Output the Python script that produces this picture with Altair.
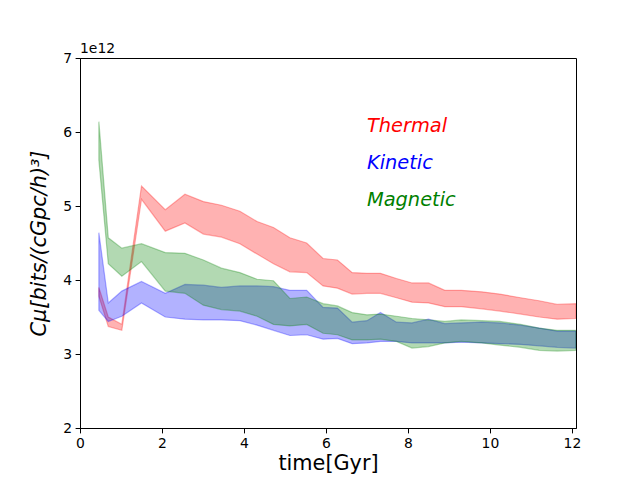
import altair as alt
import pandas as pd

# time grid [Gyr]
time = [0.46, 0.69, 1.02, 1.5, 2.08, 2.56, 3.01, 3.45, 3.9, 4.32, 4.72, 5.12, 5.53, 5.93,
        6.28, 6.64, 7.0, 7.33, 7.72, 8.1, 8.5, 8.9, 9.3, 9.8, 10.24, 10.75, 11.2, 11.64, 12.1]

# values in units of 1e12 bits/(cGpc/h)^3
thermal_hi = [3.90, 3.50, 3.40, 5.27, 4.95, 5.16, 5.06, 5.01, 4.93, 4.79, 4.71, 4.57, 4.50, 4.29,
              4.27, 4.10, 4.09, 4.09, 4.02, 3.96, 3.96, 3.86, 3.86, 3.84, 3.81, 3.76, 3.72, 3.67, 3.68]
thermal_lo = [3.78, 3.37, 3.32, 5.09, 4.66, 4.77, 4.62, 4.58, 4.49, 4.35, 4.22, 4.11, 4.10, 3.92,
              3.89, 3.81, 3.82, 3.82, 3.76, 3.70, 3.69, 3.64, 3.64, 3.61, 3.58, 3.54, 3.50, 3.47, 3.48]

kinetic_hi = [4.64, 3.69, 3.85, 3.98, 3.82, 3.94, 3.93, 3.90, 3.92, 3.92, 3.91, 3.86, 3.86, 3.63,
              3.62, 3.43, 3.45, 3.56, 3.43, 3.42, 3.47, 3.41, 3.42, 3.43, 3.42, 3.39, 3.35, 3.31, 3.31]
kinetic_lo = [3.59, 3.44, 3.51, 3.69, 3.50, 3.47, 3.46, 3.46, 3.45, 3.39, 3.32, 3.25, 3.26, 3.20,
              3.21, 3.14, 3.15, 3.17, 3.17, 3.15, 3.15, 3.15, 3.16, 3.15, 3.14, 3.13, 3.11, 3.09, 3.08]

magnetic_hi = [6.14, 4.57, 4.43, 4.49, 4.37, 4.36, 4.27, 4.16, 4.10, 4.01, 3.99, 3.75, 3.77, 3.68,
               3.65, 3.56, 3.53, 3.54, 3.51, 3.48, 3.46, 3.44, 3.46, 3.45, 3.44, 3.40, 3.35, 3.32, 3.32]
magnetic_lo = [5.62, 4.22, 4.05, 4.25, 3.85, 3.82, 3.66, 3.60, 3.58, 3.51, 3.40, 3.38, 3.40, 3.28,
               3.26, 3.19, 3.19, 3.20, 3.17, 3.08, 3.10, 3.15, 3.17, 3.15, 3.12, 3.09, 3.05, 3.04, 3.05]

series_names = ["Thermal", "Kinetic", "Magnetic"]
series_colors = ["#ff0000", "#0000ff", "#008000"]
label_x = [7.0, 7.0, 7.0]
label_y = [6.0, 5.5, 5.0]

x_ticks = [0, 2, 4, 6, 8, 10, 12]
y_ticks = [2, 3, 4, 5, 6, 7]

xscale = alt.Scale(domain=[0, 12.1], nice=False, zero=False)
yscale = alt.Scale(domain=[2, 7], nice=False, zero=False)

xaxis = alt.Axis(values=x_ticks, title="time[Gyr]", grid=False, format="d",
                 titlePadding=3, labelFlush=False)
yaxis = alt.Axis(values=y_ticks, title="Cμ[bits/(cGpc/h)³]", grid=False, format="d",
                 titleFontStyle="italic", titlePadding=13, labelFlush=False)

bands = [(thermal_lo, thermal_hi), (kinetic_lo, kinetic_hi), (magnetic_lo, magnetic_hi)]
layers = []
for i, (lo, hi) in enumerate(bands):
    df = pd.DataFrame({"t": time, "lo": lo, "hi": hi})
    layer = alt.Chart(df).mark_area(
        color=series_colors[i], fillOpacity=0.3, stroke=series_colors[i],
        strokeOpacity=0.3, strokeWidth=1.2, interpolate="linear", clip=True
    ).encode(
        x=alt.X("t:Q", scale=xscale, axis=xaxis),
        y=alt.Y("lo:Q", scale=yscale, axis=yaxis),
        y2="hi:Q",
    )
    layers.append(layer)

lab_df = pd.DataFrame({"name": series_names, "x": label_x, "y": label_y, "c": series_colors})
labels = alt.Chart(lab_df).mark_text(
    align="left", baseline="alphabetic", fontSize=19.4, fontStyle="italic", font="DejaVu Sans"
).encode(
    x=alt.X("x:Q", scale=xscale, axis=xaxis),
    y=alt.Y("y:Q", scale=yscale, axis=yaxis),
    text="name:N",
    color=alt.Color("c:N", scale=None),
)

offset_df = pd.DataFrame({"txt": ["1e12"], "x": [0.0], "y": [7.0]})
offset = alt.Chart(offset_df).mark_text(
    align="left", baseline="alphabetic", fontSize=13.9, font="DejaVu Sans", dy=-5, color="black"
).encode(
    x=alt.X("x:Q", scale=xscale, axis=xaxis),
    y=alt.Y("y:Q", scale=yscale, axis=yaxis),
    text="txt:N",
)

chart = alt.layer(*layers, labels, offset).properties(
    width=496, height=370,
    autosize=alt.AutoSizeParams(type="none"),
    padding={"left": 72, "top": 50, "right": 40, "bottom": 50},
).configure(
    font="DejaVu Sans",
).configure_view(
    stroke="black", strokeWidth=1
).configure_axis(
    domainColor="black", domainWidth=1, tickColor="black", tickSize=4.9, tickWidth=1,
    labelColor="black", labelFontSize=13.9, labelPadding=3.5, labelFont="DejaVu Sans",
    titleColor="black", titleFontSize=20.8, titleFontWeight="normal", titleFont="DejaVu Sans",
)

chart.save("out.html", embed_options={"renderer": "svg", "actions": False})
